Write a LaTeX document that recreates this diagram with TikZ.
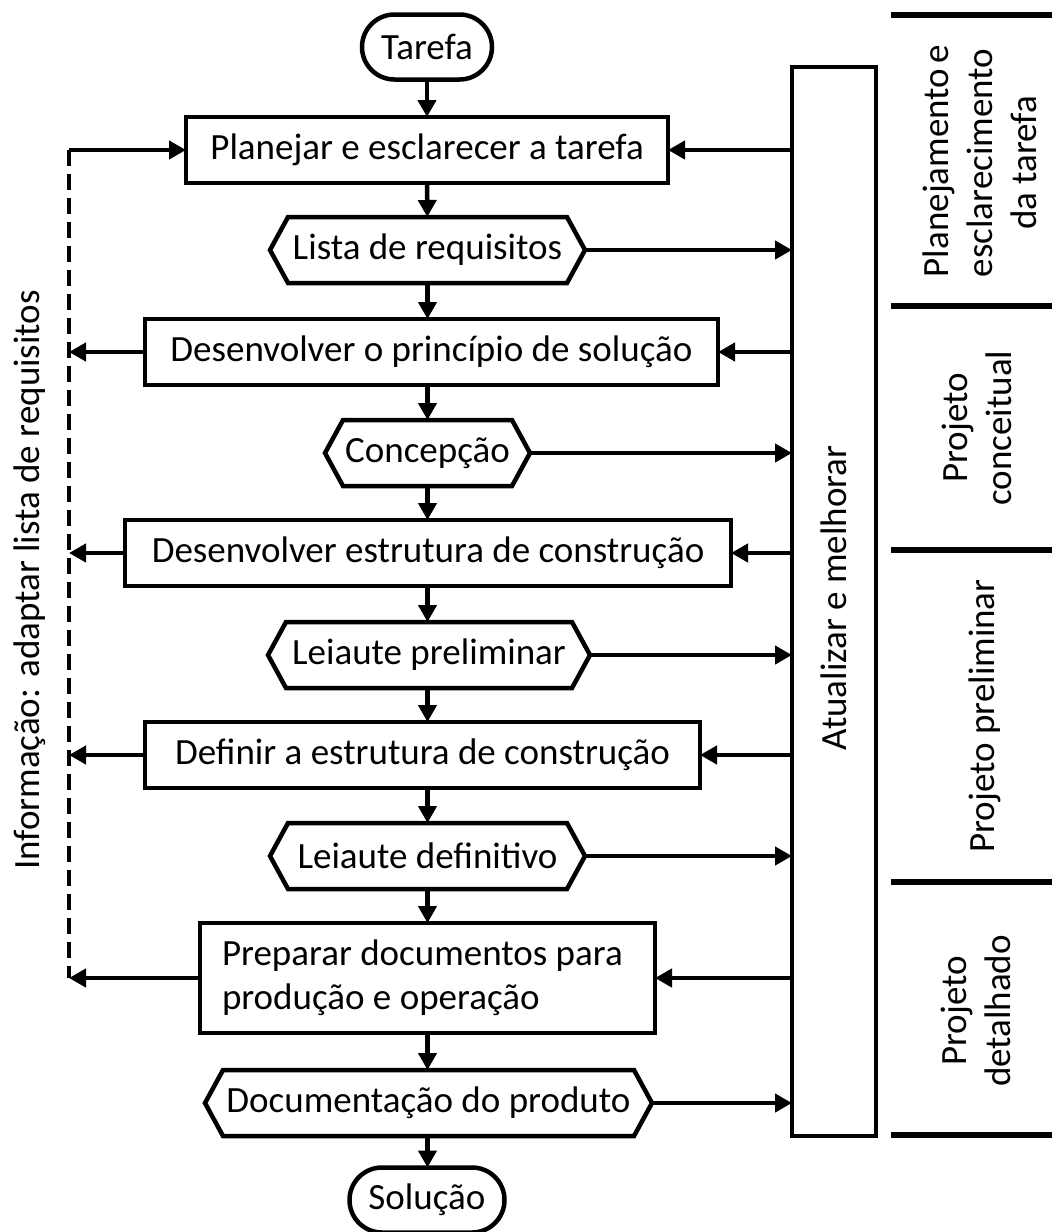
\documentclass[tikz,border=0pt]{standalone}
\usepackage{fontspec}
\usepackage{calc}
\setmainfont{Carlito}
\usetikzlibrary{arrows.meta,calc,shapes.misc}
\begin{document}
\begin{tikzpicture}[x=1pt,y=-1pt,
  font=\fontsize{37}{44}\selectfont,
  every node/.style={inner sep=0pt, outer sep=0pt},
  box/.style={draw, line width=4.5pt, rectangle, minimum height=66pt},
  term/.style={draw, line width=4.5pt, rounded rectangle, minimum height=65pt},
  hexbody/.style={minimum height=66pt},
  hexline/.style={draw, line width=4.5pt, line join=miter},
  flow/.style={line width=4.5pt, -{Triangle[length=17pt,width=18pt]}},
  feedback/.style={line width=4.5pt, dash pattern=on 16pt off 8pt},
  rule/.style={line width=6pt},
  phase/.style={rotate=90, align=center},
]
\useasboundingbox (0,0) rectangle (1052,1232);

% ---- main process chain ----
\node[term, minimum width=130pt] (start) at (427,47) {Tarefa};
\node[box, minimum width=482pt] (plan) at (427,150) {Planejar e esclarecer a tarefa};
\node[hexbody, minimum width=279pt] (req) at (427.5,250) {Lista de requisitos};
\node[box, minimum width=573pt] (dev1) at (431.5,352) {Desenvolver o princípio de solução};
\node[hexbody, minimum width=169pt] (conc) at (427.5,453) {Concepção};
\node[box, minimum width=606pt] (dev2) at (428,553) {Desenvolver estrutura de construção};
\node[hexbody, minimum width=286pt] (prel) at (429,655) {Leiaute preliminar};
\node[box, minimum width=555pt] (defn) at (422.5,755) {Definir a estrutura de construção};
\node[hexbody, minimum width=279pt] (final) at (427.5,856) {Leiaute definitivo};
\node[box, minimum height=110pt, text width=411pt, inner xsep=22pt, align=flush left] (prep) at (427.5,978)
  {Preparar documentos para\\produção e operação};
\node[hexbody, minimum width=411pt] (docs) at (428.5,1103) {Documentação do produto};
\node[term, minimum width=155pt] (sol) at (427,1200) {Solução};

% hexagonal outlines of the result documents
\foreach \n in {req,conc,prel,final,docs}{
  \draw[hexline] (\n.north west) -- (\n.north east) -- ([xshift=18pt]\n.east)
    -- (\n.south east) -- (\n.south west) -- ([xshift=-18pt]\n.west) -- cycle;
}

% vertical flow
\draw[flow] (start) -- (plan);
\draw[flow] (plan) -- (req);
\draw[flow] (req) -- (dev1.north -| req);
\draw[flow] (dev1.south -| req) -- (conc);
\draw[flow] (conc) -- (dev2.north -| conc);
\draw[flow] (dev2.south -| conc) -- (prel.north -| conc);
\draw[flow] (prel.south -| conc) -- (defn.north -| conc);
\draw[flow] (defn.south -| conc) -- (final.north -| conc);
\draw[flow] (final.south -| conc) -- (prep.north -| conc);
\draw[flow] (prep.south -| conc) -- (docs.north -| conc);
\draw[flow] (docs.south -| conc) -- (sol.north -| conc);

% ---- update / improve bar ----
\node[draw, line width=4.5pt, minimum width=84pt, minimum height=1069pt] (upd) at (834,601.5) {};
\node[rotate=90] (updtext) at (834,598) {Atualizar e melhorar};

\foreach \n in {plan,dev1,dev2,defn,prep}{
  \draw[flow] (upd.west |- \n.east) -- (\n.east);
}
\foreach \n in {req,conc,prel,final,docs}{
  \draw[flow] ([xshift=18pt]\n.east) -- (upd.west |- \n.east);
}

% ---- requirement list feedback ----
\coordinate (ftop) at (69,150);
\coordinate (fbot) at (69,978);
\draw[feedback] (ftop) -- (fbot);
\draw[flow] (ftop) -- (plan.west);
\foreach \n in {dev1,dev2,defn,prep}{
  \draw[flow] (\n.west) -- (\n.west -| ftop);
}
\node[rotate=90] (info) at (30,580) {Informação: adaptar lista de requisitos};

% ---- phase column ----
\coordinate (r0) at (891,15);
\coordinate (r1) at (891,306);
\coordinate (r2) at (891,550);
\coordinate (r3) at (891,882);
\coordinate (r4) at (891,1135);
\foreach \r in {r0,r1,r2,r3,r4}{
  \draw[rule] (\r) -- ++(161,0);
}
\node[phase] (ph1) at (980,163) {\makebox[\widthof{esclarecimento}][s]{Planejamento e}\\esclarecimento\\da tarefa};
\node[phase] (ph2) at (977,428) {Projeto\\conceitual};
\node[phase] (ph3) at (985,716) {Projeto preliminar};
\node[phase] (ph4) at (976,1011) {Projeto\\detalhado};
\end{tikzpicture}
\end{document}
